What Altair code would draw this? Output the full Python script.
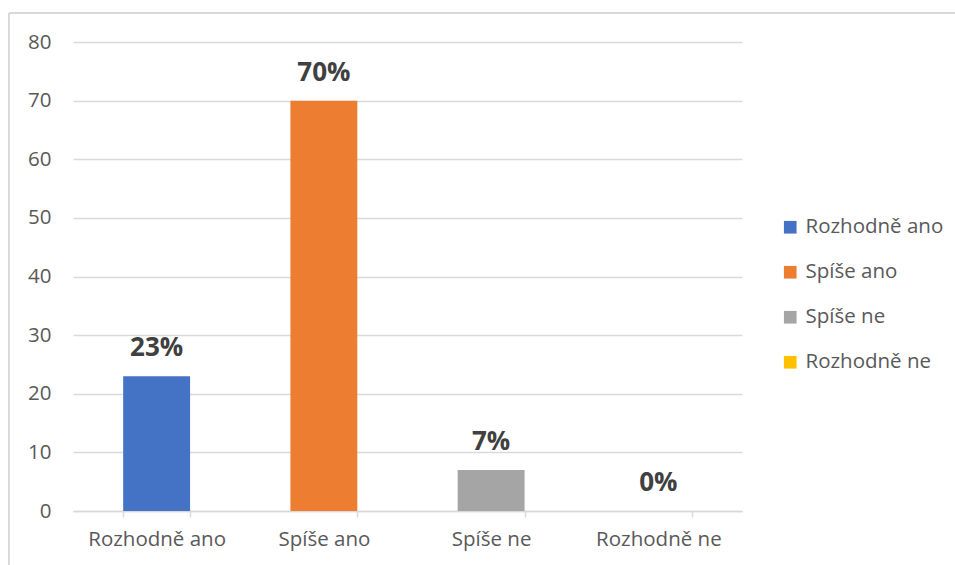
import altair as alt
import pandas as pd

categories = ["Rozhodně ano", "Spíše ano", "Spíše ne", "Rozhodně ne"]
values = [23, 70, 7, 0]
labels = ["23%", "70%", "7%", "0%"]
colors = ["#4472C4", "#ED7D31", "#A5A5A5", "#FFC000"]

df = pd.DataFrame({"cat": categories, "val": values, "lab": labels})

FONT = "Open Sans"
W, H = 669, 469

xenc = alt.X(
    "cat:N",
    sort=categories,
    title=None,
    scale=alt.Scale(paddingInner=0.6, paddingOuter=0.3),
    axis=alt.Axis(
        labelAngle=0,
        labelFont=FONT,
        labelFontSize=20.5,
        labelColor="#595959",
        labelPadding=12,
        domainColor="#D9D9D9",
        domainWidth=1.5,
        tickColor="#D9D9D9",
        tickWidth=1.5,
        tickSize=6,
        tickBand="extent",
        grid=False,
    ),
)

bars = alt.Chart(df).mark_bar().encode(
    x=xenc,
    y=alt.Y(
        "val:Q",
        title=None,
        scale=alt.Scale(domain=[0, 80], nice=False),
        axis=alt.Axis(
            values=[0, 10, 20, 30, 40, 50, 60, 70, 80],
            labelFont=FONT,
            labelFontSize=20.5,
            labelColor="#595959",
            labelPadding=22,
            domain=False,
            ticks=False,
            gridColor="#D9D9D9",
            gridWidth=1.5,
        ),
    ),
    color=alt.Color(
        "cat:N",
        sort=categories,
        scale=alt.Scale(domain=categories, range=colors),
        legend=alt.Legend(
            title=None,
            orient="none",
            legendX=707,
            legendY=175,
            symbolType="square",
            symbolSize=160,
            symbolStrokeWidth=0,
            labelFont=FONT,
            labelFontSize=20.5,
            labelColor="#595959",
            labelOffset=5,
            rowPadding=24,
        ),
    ),
)

text = alt.Chart(df).mark_text(
    font=FONT, fontSize=26, fontWeight="bold", color="#404040",
    baseline="alphabetic", dy=-20,
).encode(
    x=alt.X("cat:N", sort=categories),
    y=alt.Y("val:Q"),
    text="lab:N",
)

frame_top = alt.Chart(df).mark_rule(color="#D9D9D9", strokeWidth=2, clip=False).encode(
    x=alt.value(-64), x2=alt.value(900), y=alt.value(-29)
)
frame_left = alt.Chart(df).mark_rule(color="#D9D9D9", strokeWidth=2, clip=False).encode(
    x=alt.value(-64), y=alt.value(-29), y2=alt.value(600)
)

chart = alt.layer(frame_top, frame_left, bars, text).properties(
    width=W,
    height=H,
    padding={"left": 73, "top": 42, "right": 213, "bottom": 54},
    autosize=alt.AutoSizeParams(type="none"),
    background="white",
).configure_view(stroke=None)

chart.save("out.html", embed_options={"renderer": "svg", "actions": False})
